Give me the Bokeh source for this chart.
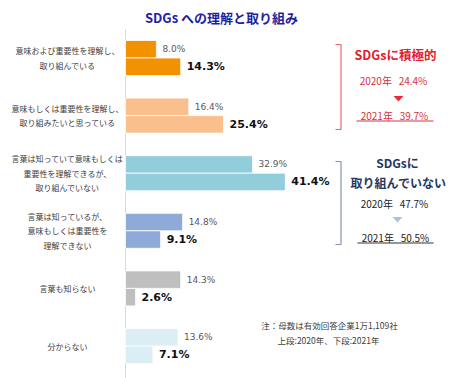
from bokeh.plotting import figure
from bokeh.models import Range1d
from bokeh.core.properties import value
from bokeh.embed import file_html
from bokeh.resources import INLINE

# ---- data ----
categories = [
    "意味および重要性を理解し、\n取り組んでいる",
    "意味もしくは重要性を理解し、\n取り組みたいと思っている",
    "言葉は知っていて意味もしくは\n重要性を理解できるが、\n取り組んでいない",
    "言葉は知っているが、\n意味もしくは重要性を\n理解できない",
    "言葉も知らない",
    "分からない",
]
v2020 = [8.0, 16.4, 32.9, 14.8, 14.3, 13.6]
v2021 = [14.3, 25.4, 41.4, 9.1, 2.6, 7.1]
bar_colors = ["#f39200", "#f9c08e", "#92cddc", "#8eaad6", "#bfbfbf", "#daeef3"]

SP = "\u00a0\u00a0\u00a0"
title = "SDGs への理解と取り組み"
red_head = "SDGsに積極的"
red_2020 = "2020年" + SP + "24.4%"
red_2021 = "2021年" + SP + "39.7%"
blue_head1 = "SDGsに"
blue_head2 = "取り組んでいない"
blue_2020 = "2020年" + SP + "47.7%"
blue_2021 = "2021年" + SP + "50.5%"
note1 = "注：母数は有効回答企業1万1,109社"
note2 = "上段:2020年、下段:2021年"

# ---- layout ----
W, H = 474, 378
ZERO_PX = 125
PX_PER_PCT = 3.86
GROUP0, STEP, BAR_H = 57.5, 57.6, 17.5
LINE_STEP = 14.5
JP = value("Noto Sans CJK JP")
NUM = value("DejaVu Sans")


def dx(px):
    return (px - ZERO_PX) / PX_PER_PCT


p = figure(width=W, height=H,
           x_range=Range1d(dx(0), dx(W)),
           y_range=Range1d(H, 0),
           x_axis_type=None, y_axis_type=None,
           output_backend="svg", toolbar_location=None, min_border=0)
p.grid.visible = False
p.outline_line_color = None
p.background_fill_color = "white"

centers = [GROUP0 + STEP * i for i in range(len(categories))]
y20 = [c - BAR_H / 2 for c in centers]
y21 = [c + BAR_H / 2 for c in centers]

# axis line
p.segment(x0=[0], y0=[29], x1=[0], y1=[H], line_color="#d9d9d9", line_width=1)

p.hbar(y=y20, left=0, right=v2020, height=BAR_H, fill_color=bar_colors,
       line_color="white", line_width=0.8)
p.hbar(y=y21, left=0, right=v2021, height=BAR_H, fill_color=bar_colors,
       line_color="white", line_width=0.8)

p.text(x=v2020, y=y20, text=[f"{v:.1f}%" for v in v2020], x_offset=6,
       text_baseline="middle", text_font=NUM, text_font_size="9px",
       text_color="#595959")
p.text(x=v2021, y=y21, text=[f"{v:.1f}%" for v in v2021], x_offset=6,
       text_baseline="middle", text_font=NUM, text_font_size="11px",
       text_font_style="bold", text_color="#111111")

# category labels, one text per line
lx, ly, lt = [], [], []
for c, cat in zip(centers, categories):
    lines = cat.split("\n")
    n = len(lines)
    for k, ln in enumerate(lines):
        lx.append(dx(67))
        ly.append(c + (k - (n - 1) / 2) * LINE_STEP)
        lt.append(ln)
p.text(x=lx, y=ly, text=lt, text_align="center", text_baseline="middle",
       text_font=JP, text_font_size="8px", text_color="#404040")


def txt(xp, yp, t, size, color, bold=False, align="center"):
    p.text(x=[dx(xp)], y=[yp], text=[t], text_align=align, text_baseline="middle",
           text_font=JP, text_font_size=size, text_color=color,
           text_font_style="bold" if bold else "normal")


txt(221, 17, title, "13px", "#1f1fa3", bold=True)

# red block
p.line(x=[dx(335), dx(340.5), dx(340.5), dx(335)], y=[44, 44, 129, 129],
       line_color="#e06a72", line_width=1.2)
txt(395, 54, red_head, "12.5px", "#e0202c", bold=True)
txt(393, 80, red_2020, "10px", "#d83040")
p.patch(x=[dx(393), dx(403), dx(398)], y=[95.5, 95.5, 101], fill_color="#e0303e",
        line_color=None)
txt(394, 114.5, red_2021, "10px", "#d83040")
p.segment(x0=[dx(356)], y0=[120.5], x1=[dx(433)], y1=[120.5], line_color="#d83040",
          line_width=1)

# blue block
NAVY = "#1f3864"
p.line(x=[dx(335), dx(340.5), dx(340.5), dx(335)], y=[161, 161, 244, 244],
       line_color="#8594ab", line_width=1.2)
txt(397, 162, blue_head1, "12px", NAVY, bold=True)
txt(398, 182, blue_head2, "12px", NAVY, bold=True)
txt(394, 203, blue_2020, "10px", "#222222")
p.patch(x=[dx(392), dx(402), dx(397)], y=[216.5, 216.5, 222], fill_color="#a9c1de",
        line_color=None)
txt(395, 236.5, blue_2021, "10px", "#222222")
p.segment(x0=[dx(357)], y0=[242.5], x1=[dx(433)], y1=[242.5], line_color="#333333",
          line_width=1)

# note
txt(329, 324, note1, "8.5px", "#404040")
txt(328, 339, note2, "8.5px", "#404040")

open("out.html", "w").write(file_html(p, INLINE))
